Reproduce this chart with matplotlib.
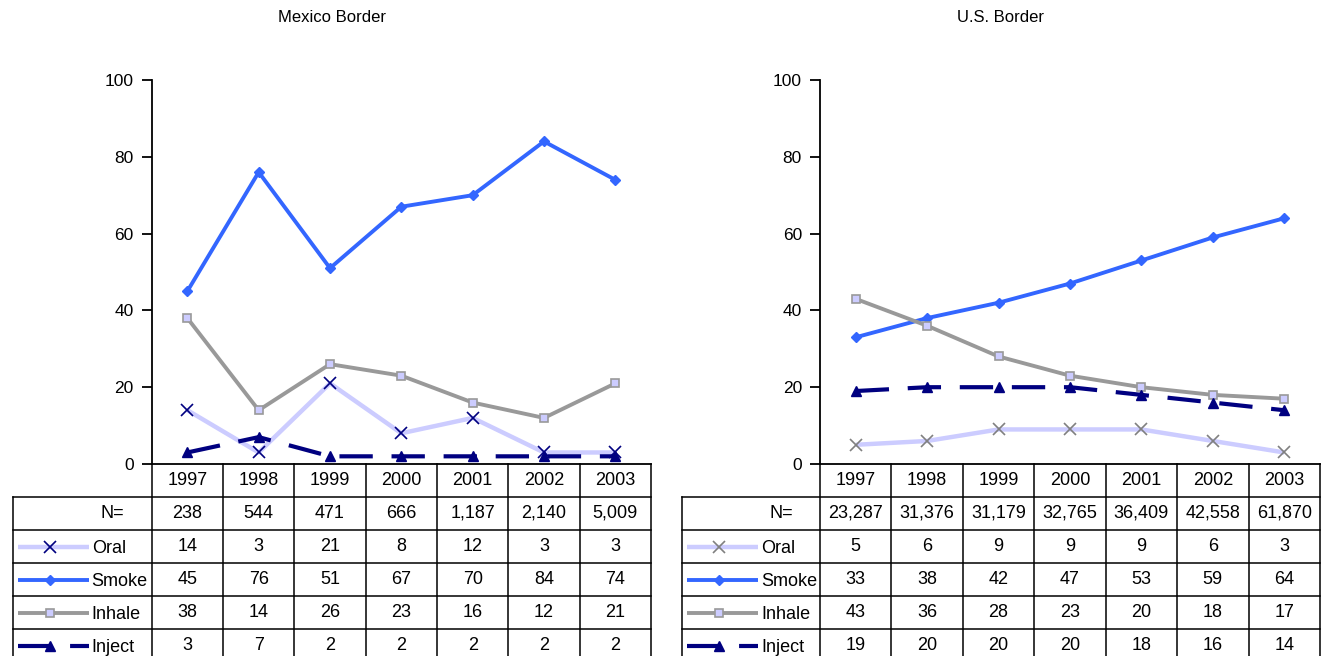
import matplotlib
matplotlib.use("Agg")
import matplotlib.pyplot as plt
from matplotlib.lines import Line2D

plt.rcParams["font.family"] = ["Liberation Sans", "DejaVu Sans"]

years = ["1997", "1998", "1999", "2000", "2001", "2002", "2003"]
series_names = ["Oral", "Smoke", "Inhale", "Inject"]

mex_n = ["238", "544", "471", "666", "1,187", "2,140", "5,009"]
mex_oral = [14, 3, 21, 8, 12, 3, 3]
mex_smoke = [45, 76, 51, 67, 70, 84, 74]
mex_inhale = [38, 14, 26, 23, 16, 12, 21]
mex_inject = [3, 7, 2, 2, 2, 2, 2]

us_n = ["23,287", "31,376", "31,179", "32,765", "36,409", "42,558", "61,870"]
us_oral = [5, 6, 9, 9, 9, 6, 3]
us_smoke = [33, 38, 42, 47, 53, 59, 64]
us_inhale = [43, 36, 28, 23, 20, 18, 17]
us_inject = [19, 20, 20, 20, 18, 16, 14]

W, H = 1321, 656
BLUE = "#3366FF"
GRAY = "#999999"
LAV = "#CCCCFF"
NAVY = "#000080"


def styles(oral_marker_color):
    return {
        "Oral": dict(color=LAV, lw=3.2, marker="x", ms=9, mec=oral_marker_color, mew=1.2),
        "Smoke": dict(color=BLUE, lw=2.8, marker="D", ms=5.5, mec=BLUE, mfc=BLUE),
        "Inhale": dict(color=GRAY, lw=2.8, marker="s", ms=6, mfc=LAV, mec=GRAY, mew=1.2),
        "Inject": dict(color=NAVY, lw=3.0, marker="^", ms=7, mfc=NAVY, mec=NAVY,
                       dashes=(8, 4.5)),
    }


def panel(fig, title, tab_left, col_left, col_right, n_vals, data, oral_mc):
    y_top, y_zero, row_h = 80, 464, 33
    ncol = len(years)
    col_w = (col_right - col_left) / ncol
    st = styles(oral_mc)

    # line chart
    ax = fig.add_axes([col_left / W, 1 - y_zero / H, (col_right - col_left) / W,
                       (y_zero - y_top) / H])
    x = range(ncol)
    for name in series_names:
        ax.plot(x, data[name], solid_capstyle="butt", dash_capstyle="butt",
                clip_on=False, **st[name])
    ax.set_xlim(-0.5, ncol - 0.5)
    ax.set_ylim(0, 100)
    ax.set_yticks([0, 20, 40, 60, 80, 100])
    ax.set_xticks([])
    for s in ["top", "right"]:
        ax.spines[s].set_visible(False)
    ax.spines["left"].set_linewidth(1.3)
    ax.spines["bottom"].set_linewidth(1.3)
    ax.tick_params(axis="y", length=7, width=1.3, labelsize=12.5, pad=6)
    ax.patch.set_alpha(0)

    # data table below
    nrows = 6
    tab = fig.add_axes([tab_left / W, 1 - (y_zero + nrows * row_h) / H,
                        (col_right - tab_left) / W, nrows * row_h / H])
    xl = -0.5 - (col_left - tab_left) / col_w
    tab.set_xlim(xl, ncol - 0.5)
    tab.set_ylim(nrows, 0)
    tab.axis("off")
    lk = dict(color="black", lw=1.1, clip_on=False)
    for i in range(ncol + 1):
        tab.plot([i - 0.5, i - 0.5], [0, nrows], **lk)
    tab.plot([xl, xl], [1, nrows], **lk)
    for r in range(1, nrows + 1):
        tab.plot([xl, ncol - 0.5], [r, r], **lk)

    fs = 13
    for i, yr in enumerate(years):
        tab.text(i, 0.5, yr, ha="center", va="center", fontsize=fs)
        tab.text(i, 1.5, n_vals[i], ha="center", va="center", fontsize=fs)
        for r, name in enumerate(series_names):
            tab.text(i, r + 2.5, str(data[name][i]), ha="center", va="center", fontsize=fs)

    lab_w = -0.5 - xl
    tab.text(xl + lab_w * 0.72, 1.5, "N=", ha="center", va="center", fontsize=fs)
    for r, name in enumerate(series_names):
        yy = r + 2.5
        x0 = xl + 5 / col_w
        x1 = xl + 76 / col_w
        xm = xl + 37 / col_w
        kw = dict(st[name])
        mk = {k: kw.pop(k) for k in ["marker", "ms", "mec", "mfc", "mew"] if k in kw}
        tab.add_line(Line2D([x0, x1], [yy, yy], solid_capstyle="butt",
                            dash_capstyle="butt", **kw))
        tab.plot([xm], [yy], linestyle="none", **mk)
        tab.text(xl + 79 / col_w, yy + 0.05, name, ha="left", va="center", fontsize=fs)

    fig.text(((tab_left + col_right) / 2) / W, 1 - 17 / H, title,
             ha="center", va="center", fontsize=12)


fig = plt.figure(figsize=(W / 100, H / 100), dpi=100)

mex = {"Oral": mex_oral, "Smoke": mex_smoke, "Inhale": mex_inhale, "Inject": mex_inject}
us = {"Oral": us_oral, "Smoke": us_smoke, "Inhale": us_inhale, "Inject": us_inject}

panel(fig, "Mexico Border", 12.7, 151.7, 651, mex_n, mex, NAVY)
panel(fig, "U.S. Border", 682, 820, 1320, us_n, us, "#808080")

fig.savefig("out.png", dpi=100)
